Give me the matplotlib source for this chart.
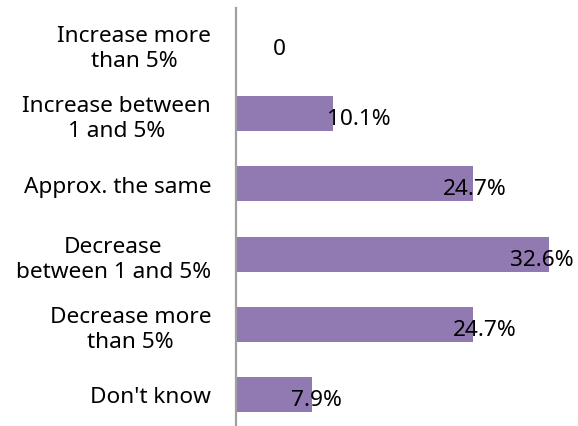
import matplotlib
matplotlib.use("Agg")
import matplotlib.pyplot as plt
import matplotlib.transforms as mtransforms

categories = ["Increase more\nthan 5%", "Increase between\n1 and 5%", "Approx. the same",
              "Decrease\nbetween 1 and 5%", "Decrease more\nthan 5%", "Don't know"]
values = [0, 10.1, 24.7, 32.6, 24.7, 7.9]
value_labels = ["0", "10.1%", "24.7%", "32.6%", "24.7%", "7.9%"]

BAR_COLOR = "#9179B2"
AXIS_COLOR = "#A0A0A0"
FONT = "Noto Sans"
FS = 16.3

fig = plt.figure(figsize=(5.78, 4.27), dpi=100)
ax = fig.add_axes([236 / 578, -0.0084, 342 / 578, 0.9864])

y = list(range(len(categories)))
ax.barh(y, values, height=0.5, color=BAR_COLOR, zorder=2)

ax.set_xlim(0, 342 / 9.6)
ax.set_ylim(len(categories) - 0.5, -0.5)

ax.set_yticks(y)
ax.set_yticklabels(categories, fontfamily=FONT, fontsize=FS, multialignment="center",
                   linespacing=1.25)
ax.tick_params(axis="y", length=0, pad=18)
ax.set_xticks([])

for s in ["top", "right", "bottom"]:
    ax.spines[s].set_visible(False)
ax.spines["left"].set_color(AXIS_COLOR)
ax.spines["left"].set_linewidth(1.6)

# data labels, offsets in pixels from the bar end
offsets = [43, 26, 2, -7, 12, 5]
for yi, v, txt, off in zip(y, values, value_labels, offsets):
    tr = ax.transData + mtransforms.ScaledTranslation(off / 100, -5 / 100, fig.dpi_scale_trans)
    ax.text(v, yi, txt, transform=tr, ha="center", va="center",
            fontfamily=FONT, fontsize=FS, color="#000000", zorder=3)

fig.savefig("out.png", dpi=100)
